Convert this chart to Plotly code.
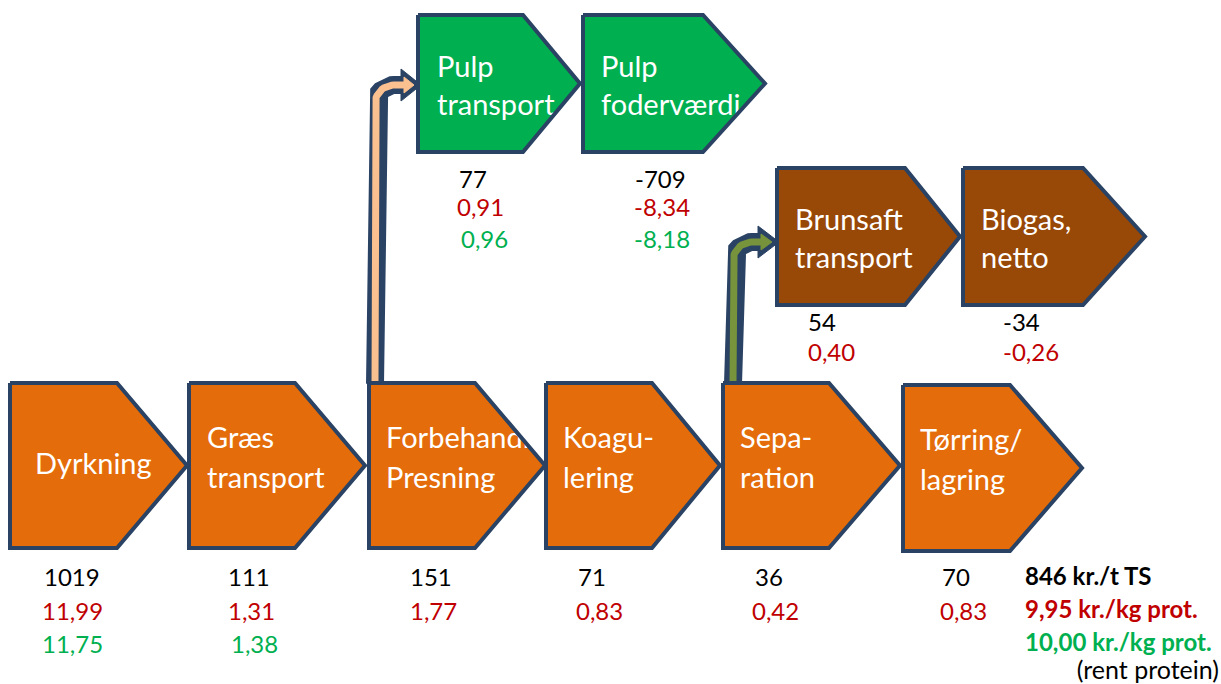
import math
import plotly.graph_objects as go

# ---------------- data ----------------
main_steps = ["Dyrkning", "Græs\ntransport", "Forbehandl.\nPresning", "Koagu-\nlering", "Sepa-\nration", "Tørring/\nlagring"]
main_kr_t_ts = [1019, 111, 151, 71, 36, 70]
main_kr_kg_prot = ["11,99", "1,31", "1,77", "0,83", "0,42", "0,83"]
main_kr_kg_rent = ["11,75", "1,38"]

pulp_steps = ["Pulp\ntransport", "Pulp\nfoderværdi"]
pulp_kr_t_ts = [77, -709]
pulp_kr_kg_prot = ["0,91", "-8,34"]
pulp_kr_kg_rent = ["0,96", "-8,18"]

brun_steps = ["Brunsaft\ntransport", "Biogas,\nnetto"]
brun_kr_t_ts = [54, -34]
brun_kr_kg_prot = ["0,40", "-0,26"]

total_lines = ["846 kr./t TS", "9,95 kr./kg prot.", "10,00 kr./kg prot.", "(rent protein)"]

# ---------------- layout geometry (diagram positions) ----------------
W, H = 1221, 684
main_geo = dict(left=[10, 189, 369, 546, 723, 903], shoulder=[117, 295, 475, 652, 829, 1010],
                right=[187, 365, 545, 720, 900, 1082], top=[383] * 5 + [385], bottom=[548] * 5 + [551])
pulp_geo = dict(left=[418, 583], shoulder=[523, 703], right=[580, 765], top=[15, 15], bottom=[152, 152])
brun_geo = dict(left=[777, 963], shoulder=[905, 1083], right=[960, 1145], top=[168, 168], bottom=[305, 305])

main_label_x = [35, 207, 386, 563, 740, 920]
pulp_label_x = [437, 601]
brun_label_x = [795, 981]
main_line_off = (-25, 15, 1)     # two-line offsets from box middle, single-line offset
upper_line_off = (-14, 24, 0)

main_num_x = [[44, 228, 410, 578, 755, 942], [42, 228, 410, 576, 752, 940], [42, 231]]
main_num_y = [580, 614, 647]
pulp_num_x = [[459, 635], [457, 634], [461, 634]]
pulp_num_y = [182, 210, 242]
brun_num_x = [[808, 1003], [808, 1003]]
brun_num_y = [325, 355]
total_x, total_y = 1025, [579, 612, 645, 673]

# styles
NAVY = "#2A4263"
ORANGE = "#E46C0A"
GREEN_BOX = "#00B050"
BROWN = "#984807"
RED = "#C00000"
GREEN_TXT = "#00B050"
PEACH = "#FAC090"
OLIVE = "#77933C"
FONT = "Lato"
LABEL_SIZE = 29
NUM_SIZE = 24
TOTAL_SIZE = 24

fig = go.Figure()


def pentagon(l, s, r, t, b):
    m = (t + b) / 2
    return [l, s, r, s, l, l], [t, t, m, b, b, t]


def add_text(xs, ys, texts, color, size, pos="middle right", bold=False):
    if bold:
        texts = ["<b>%s</b>" % t for t in texts]
    fig.add_trace(go.Scatter(x=xs, y=ys, text=texts, mode="text", textposition=pos,
                             textfont=dict(family=FONT, size=size, color=color),
                             hoverinfo="skip", showlegend=False))


def bent_arrow(cx, y0, yh, xb, tip, inner):
    r = 19
    xs, ys = [cx, cx], [y0, yh + r]
    for k in range(1, 15):
        a = math.pi - k * (math.pi / 2) / 14
        xs.append(cx + r + r * math.cos(a))
        ys.append(yh + r - r * math.sin(a))
    xs.append(xb)
    ys.append(yh)
    fig.add_trace(go.Scatter(x=xs, y=ys, mode="lines", line=dict(color=NAVY, width=18),
                             hoverinfo="skip", showlegend=False))
    fig.add_trace(go.Scatter(x=[xb - 3, tip + 3, xb - 3, xb - 3], y=[yh - 16, yh, yh + 16, yh - 16],
                             mode="lines", fill="toself", fillcolor=NAVY, line=dict(color=NAVY, width=1),
                             hoverinfo="skip", showlegend=False))
    fig.add_trace(go.Scatter(x=xs[:-1] + [xb + 1], y=ys[:-1] + [yh], mode="lines",
                             line=dict(color=inner, width=7), hoverinfo="skip", showlegend=False))
    fig.add_trace(go.Scatter(x=[xb, tip - 4, xb, xb], y=[yh - 8, yh, yh + 8, yh - 8],
                             mode="lines", fill="toself", fillcolor=inner, line=dict(color=inner, width=1),
                             hoverinfo="skip", showlegend=False))


# arrows
bent_arrow(375, 384, 85, 404, 418, PEACH)
bent_arrow(733, 384, 242, 761, 776, OLIVE)


def add_group(geo, steps, color, label_x, off):
    n = len(steps)
    for i in range(n):
        px, py = pentagon(geo["left"][i], geo["shoulder"][i], geo["right"][i], geo["top"][i], geo["bottom"][i])
        fig.add_trace(go.Scatter(x=px, y=py, mode="lines", fill="toself", fillcolor=color,
                                 line=dict(width=0, color=color), hoverinfo="skip", showlegend=False))
    for i in range(n):
        lines = steps[i].split("\n")
        mid = (geo["top"][i] + geo["bottom"][i]) / 2
        ys = [mid + off[2]] if len(lines) == 1 else [mid + off[0], mid + off[1]]
        add_text([label_x[i]] * len(lines), ys, lines, "white", LABEL_SIZE)
    for i in range(n):
        px, py = pentagon(geo["left"][i], geo["shoulder"][i], geo["right"][i], geo["top"][i], geo["bottom"][i])
        fig.add_trace(go.Scatter(x=px, y=py, mode="lines", line=dict(width=4, color=NAVY),
                                 hoverinfo="skip", showlegend=False))


add_group(main_geo, main_steps, ORANGE, main_label_x, main_line_off)
add_group(pulp_geo, pulp_steps, GREEN_BOX, pulp_label_x, upper_line_off)
add_group(brun_geo, brun_steps, BROWN, brun_label_x, upper_line_off)

# numbers
add_text(main_num_x[0], [main_num_y[0]] * 6, [str(v) for v in main_kr_t_ts], "black", NUM_SIZE)
add_text(main_num_x[1], [main_num_y[1]] * 6, main_kr_kg_prot, RED, NUM_SIZE)
add_text(main_num_x[2], [main_num_y[2]] * 2, main_kr_kg_rent, GREEN_TXT, NUM_SIZE)

add_text(pulp_num_x[0], [pulp_num_y[0]] * 2, [str(v) for v in pulp_kr_t_ts], "black", NUM_SIZE)
add_text(pulp_num_x[1], [pulp_num_y[1]] * 2, pulp_kr_kg_prot, RED, NUM_SIZE)
add_text(pulp_num_x[2], [pulp_num_y[2]] * 2, pulp_kr_kg_rent, GREEN_TXT, NUM_SIZE)

add_text(brun_num_x[0], [brun_num_y[0]] * 2, [str(v) for v in brun_kr_t_ts], "black", NUM_SIZE)
add_text(brun_num_x[1], [brun_num_y[1]] * 2, brun_kr_kg_prot, RED, NUM_SIZE)

# totals
add_text([total_x], [total_y[0]], [total_lines[0]], "black", TOTAL_SIZE, bold=True)
add_text([total_x], [total_y[1]], [total_lines[1]], RED, TOTAL_SIZE, bold=True)
add_text([total_x], [total_y[2]], [total_lines[2]], GREEN_TXT, TOTAL_SIZE, bold=True)
add_text([1219], [total_y[3]], [total_lines[3]], "black", 25, pos="middle left")

fig.update_layout(
    width=W, height=H, margin=dict(l=0, r=0, t=0, b=0),
    paper_bgcolor="white", plot_bgcolor="white",
    xaxis=dict(range=[0, W], visible=False, fixedrange=True),
    yaxis=dict(range=[H, 0], visible=False, fixedrange=True),
    showlegend=False,
)

fig.write_html("out.html", config={"displayModeBar": False},
               post_script="document.body.style.margin='0';document.body.style.overflow='hidden';")
